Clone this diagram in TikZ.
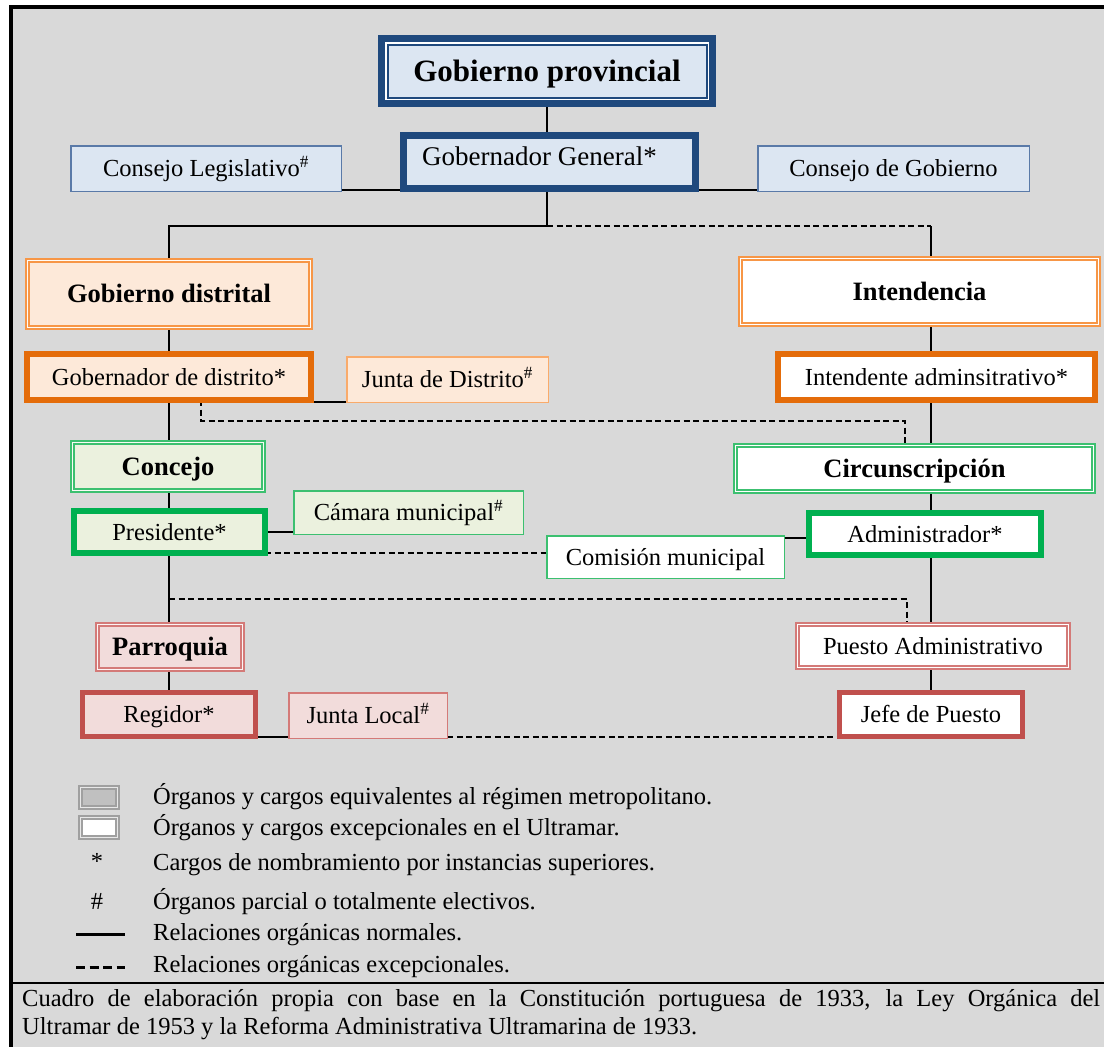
\documentclass[tikz,border=0pt]{standalone}
\usepackage{fontspec}
\setmainfont{Liberation Serif}
\usetikzlibrary{calc}
\pgfdeclarelayer{paper}
\pgfdeclarelayer{wires}
\pgfsetlayers{paper,wires,main}

\definecolor{paperbg}{HTML}{D9D9D9}
\definecolor{navy}{HTML}{1F497D}
\definecolor{navyfill}{HTML}{DCE6F2}
\definecolor{navythin}{HTML}{5A7AA8}
\definecolor{orthick}{HTML}{E46C0A}
\definecolor{orline}{HTML}{F79646}
\definecolor{orfill}{HTML}{FDE9D9}
\definecolor{grthick}{HTML}{00B050}
\definecolor{grline}{HTML}{3CC070}
\definecolor{grfill}{HTML}{EBF1DE}
\definecolor{rdthick}{HTML}{C0504D}
\definecolor{rdline}{HTML}{D47A78}
\definecolor{rdfill}{HTML}{F2DCDB}
\definecolor{legline}{HTML}{A0A0A0}
\definecolor{legfill}{HTML}{C0C0C0}

\newcommand\bodysz{\fontsize{24.5}{28}\selectfont}
\newcommand\bigsz{\fontsize{27}{30}\selectfont}
\newcommand\headsz{\fontsize{26.5}{30}\selectfont\bfseries}
\newcommand\titlesz{\fontsize{31}{34}\selectfont\bfseries}
\newcommand\hashmark{\textsuperscript{\#}}

\begin{document}
\begin{tikzpicture}[x=1pt,y=-1pt,
  box/.style={rectangle, inner sep=0pt, outer sep=0pt, font=\bodysz,
    text height=18pt, text depth=2pt},
  thickbox/.style={box, line width=#1},
  thinbox/.style={box, line width=1.5pt},
  dblbox/.style={box, line width=1.8pt, double distance=1.6pt, font=\headsz,
    text height=19pt, text depth=1.5pt},
  wire/.style={line width=2pt, black},
  dashwire/.style={line width=2pt, black, dash pattern=on 6pt off 3.5pt},
  thindash/.style={line width=1.3pt, black, dash pattern=on 6pt off 3.5pt},
  legtext/.style={anchor=west, inner sep=0pt, font=\bodysz}
]
\useasboundingbox (0,0) rectangle (1104,1047);

% paper and frame
\begin{pgfonlayer}{paper}
  \fill[white] (0,0) rectangle (1104,1047);
  \fill[paperbg] (11,7) rectangle (1104,1047);
  \draw[line width=4pt] (11,1047) -- (11,7) -- (1104,7);
  \draw[line width=1.3pt] (11,983) -- (1104,983);
\end{pgfonlayer}

% provincial level
\node[box, font=\titlesz, text height=22pt, text depth=1pt, draw=navy, line width=7pt, fill=navyfill,
  minimum width=331pt, minimum height=65pt] (GP) at (547,71) {Gobierno provincial};
\draw[white, line width=1.5pt] ($(GP.north west)+(4.25,4.25)$) rectangle ($(GP.south east)+(-4.25,-4.25)$);
\draw[navy, line width=2pt] ($(GP.north west)+(6,6)$) rectangle ($(GP.south east)+(-6,-6)$);

\node[thickbox=7pt, draw=navy, fill=navyfill, font=\bigsz, text height=19pt,
  minimum width=292pt, minimum height=53pt] (GG) at (549.5,162)
  {\raisebox{5pt}{Gobernador General*\hspace*{20pt}}};
\node[thinbox, draw=navythin, fill=navyfill,
  minimum width=270.5pt, minimum height=45.5pt] (CL) at (206,168.5) {Consejo Legislativo\hashmark};
\node[thinbox, draw=navythin, fill=navyfill,
  minimum width=271.5pt, minimum height=45.5pt] (CG) at (893.5,168.5) {Consejo de Gobierno};

% district level
\node[dblbox, draw=orline, double=orfill!20!white, fill=orfill,
  minimum width=282.8pt, minimum height=66.8pt] (GDs) at (169,294) {Gobierno distrital};
\node[dblbox, draw=orline, double=white, fill=white,
  minimum width=357.8pt, minimum height=65.8pt] (IN) at (919.5,291.5) {Intendencia};
\node[thickbox=6pt, draw=orthick, fill=orfill,
  minimum width=284pt, minimum height=46pt] (GDi) at (169,377) {Gobernador de distrito*};
\node[thinbox, draw=orline!80!white, fill=orfill,
  minimum width=201.5pt, minimum height=45.5pt] (JD) at (447.5,379.5) {Junta de Distrito\hashmark};
\node[thickbox=6pt, draw=orthick, fill=white,
  minimum width=317pt, minimum height=46pt] (IA) at (936.5,377) {Intendente adminsitrativo*};

% municipal level
\node[dblbox, draw=grline, double=grfill!30!white, fill=grfill,
  minimum width=190.8pt, minimum height=47.8pt] (CO) at (168,466.5) {Concejo};
\node[dblbox, draw=grline, double=white, fill=white,
  minimum width=357.8pt, minimum height=45.8pt] (CI) at (914.5,468.5) {Circunscripción};
\node[thickbox=6pt, draw=grthick, fill=grfill,
  minimum width=191pt, minimum height=42pt] (PR) at (169.5,532) {Presidente*};
\node[thinbox, draw=grline, fill=grfill,
  minimum width=229.5pt, minimum height=43.5pt] (CM) at (408.5,512.5) {Cámara municipal\hashmark};
\node[thickbox=6pt, draw=grthick, fill=white,
  minimum width=232pt, minimum height=42pt] (AD) at (925,534) {Administrador*};
\node[thinbox, draw=grline, fill=white,
  minimum width=237.5pt, minimum height=42.5pt] (CMu) at (665.5,557) {Comisión municipal};

% parish level
\node[dblbox, draw=rdline, double=rdfill!30!white, fill=rdfill,
  minimum width=144.8pt, minimum height=44.8pt] (PA) at (170,647) {Parroquia};
\node[dblbox, font=\bodysz, text height=18pt, text depth=2pt, draw=rdline, double=white, fill=white,
  minimum width=270.8pt, minimum height=42.8pt] (PAd) at (933,646) {Puesto Administrativo};
\node[thickbox=5pt, draw=rdthick, fill=rdfill,
  minimum width=173pt, minimum height=44pt] (RE) at (169,714.5) {Regidor*};
\node[thinbox, draw=rdline, fill=rdfill,
  minimum width=158.5pt, minimum height=45.5pt] (JL) at (368,715.5) {Junta Local\hashmark};
\node[thickbox=5pt, draw=rdthick, fill=white,
  minimum width=183pt, minimum height=44pt] (JP) at (931,714.5) {Jefe de Puesto};

% routing points
\coordinate (jTop) at (547,226);
\coordinate (jRight) at (931,226);
\coordinate (xL) at (169,0);
\coordinate (xR) at (931,0);
\coordinate (dA) at (201,421);
\coordinate (dB) at (905,421);
\coordinate (dC) at (169,599);
\coordinate (dD) at (907,599);
\coordinate (kCM) at ($(CMu.north east)+(0,2)$);
\coordinate (kCL) at ($(CL.south east)+(0,-1)$);

\begin{pgfonlayer}{wires}
  \draw[wire] (GP.south) -- (GP.south |- GG.north);
  \draw[wire] (kCL) -- (kCL -| CG.west);
  \draw[wire] (GG.south -| jTop) -- (jTop) -| (GDs.north -| xL);
  \draw[thindash] (jTop) -- (jRight);
  \draw[wire] (jRight) -- (IN.north -| xR);
  \draw[wire] (GDs.south -| xL) -- (GDi.north -| xL);
  \draw[wire] (IN.south -| xR) -- (IA.north -| xR);
  \draw[wire] (GDi.east |- JD.south) -- (JD.south west);
  \draw[dashwire] (GDi.south -| dA) -- (dA) -- (dB) -- (CI.north -| dB);
  \draw[wire] (GDi.south -| xL) -- (CO.north -| xL);
  \draw[wire] (IA.south -| xR) -- (CI.north -| xR);
  \draw[wire] (CO.south -| xL) -- (PR.north -| xL);
  \draw[wire] (CI.south -| xR) -- (AD.north -| xR);
  \draw[wire] (PR.east) -- (PR.east -| CM.west);
  \draw[wire] (kCM) -- (kCM -| AD.west);
  \draw[dashwire] (PR.south east) -- (PR.south east -| CMu.west);
  \draw[wire] (PR.south -| xL) -- (PA.north -| xL);
  \draw[dashwire] (dC) -- (dD) -- (PAd.north -| dD);
  \draw[wire] (AD.south -| xR) -- (PAd.north -| xR);
  \draw[wire] (PA.south -| xL) -- (RE.north -| xL);
  \draw[wire] (PAd.south -| xR) -- (JP.north -| xR);
  \draw[wire] (RE.south east) -- (RE.south east -| JL.west);
  \draw[dashwire] (RE.south east -| JL.east) -- (RE.south east -| JP.west);
\end{pgfonlayer}

% legend
\node[box, draw=legline, line width=1.8pt, double distance=1.6pt, double=paperbg!60!white,
  fill=legfill, minimum width=36.8pt, minimum height=19.8pt] (LG1) at (99,797.5) {};
\node[box, draw=legline, line width=1.8pt, double distance=1.6pt, double=paperbg!60!white,
  fill=white, minimum width=36.8pt, minimum height=19.8pt] (LG2) at (99,827.5) {};
\node[box] (LG3) at (97,861) {*};
\node[box] (LG4) at (97,901) {\#};
\coordinate (ls1) at (76,934);
\coordinate (ls2) at (125,934);
\coordinate (ld1) at (76,967);
\coordinate (ld2) at (125,967);
\draw[line width=3pt] (ls1) -- (ls2);
\draw[line width=3pt, dash pattern=on 9pt off 4.5pt] (ld1) -- (ld2);

\node[legtext] (T1) at (153,797) {Órganos y cargos equivalentes al régimen metropolitano.};
\node[legtext] (T2) at (153,828) {Órganos y cargos excepcionales en el Ultramar.};
\node[legtext] (T3) at (153,865) {Cargos de nombramiento por instancias superiores.};
\node[legtext] (T4) at (153,902) {Órganos parcial o totalmente electivos.};
\node[legtext] (T5) at (153,935) {Relaciones orgánicas normales.};
\node[legtext] (T6) at (153,967) {Relaciones orgánicas excepcionales.};

% source note
\node[anchor=north west, inner sep=0pt, align=left, font=\fontsize{24.5}{28}\selectfont] (SRC) at (22,989)
  {\makebox[1078pt][s]{Cuadro de elaboración propia con base en la Constitución portuguesa de 1933, la Ley Orgánica del}\\
   Ultramar de 1953 y la Reforma Administrativa Ultramarina de 1933.};
\end{tikzpicture}
\end{document}
